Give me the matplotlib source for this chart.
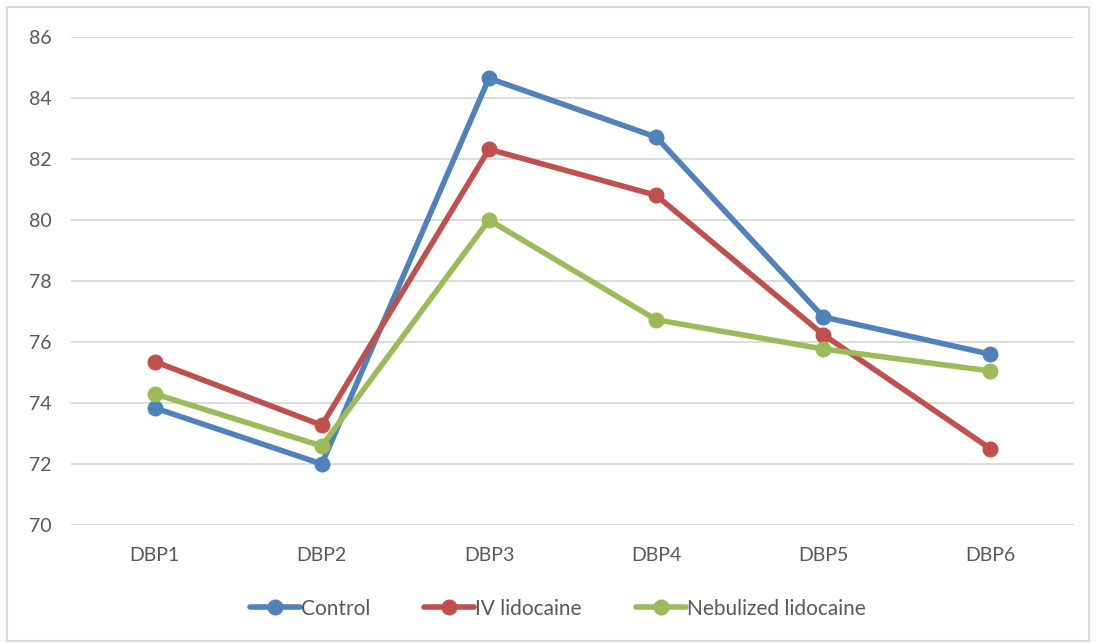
import matplotlib.pyplot as plt
from matplotlib.patches import Rectangle

# data
categories = ['DBP1', 'DBP2', 'DBP3', 'DBP4', 'DBP5', 'DBP6']
control = [73.84, 72.0, 84.65, 82.72, 76.82, 75.6]
iv_lido = [75.36, 73.27, 82.32, 80.81, 76.24, 72.5]
neb_lido = [74.3, 72.59, 80.0, 76.73, 75.77, 75.05]

series = [('Control', control, '#4F81BD'),
          ('IV lidocaine', iv_lido, '#C0504D'),
          ('Nebulized lidocaine', neb_lido, '#9BBB59')]

plt.rcParams['font.family'] = ['Lato', 'DejaVu Sans']

fig = plt.figure(figsize=(10.96, 6.44), dpi=100)
ax = fig.add_axes([0.0648, 0.1848, 0.9152, 0.7577])

x = range(len(categories))
for name, vals, col in series:
    ax.plot(x, vals, color=col, lw=4, marker='o', ms=10.5, label=name,
            solid_capstyle='round', zorder=3)

ax.set_xlim(-0.5, len(categories) - 0.5)
ax.set_ylim(70, 86)
ax.set_yticks(range(70, 87, 2))
ax.set_xticks(list(x))
ax.set_xticklabels(categories)
ax.grid(axis='y', color='#D9D9D9', lw=1.3, zorder=0)
ax.tick_params(axis='both', length=0, labelsize=14, labelcolor='#595959')
ax.tick_params(axis='y', pad=14)
ax.tick_params(axis='x', pad=16)
for s in ax.spines.values():
    s.set_visible(False)
ax.axhline(70, color='#D9D9D9', lw=1.3, zorder=1)

leg = fig.legend(loc='center', bbox_to_anchor=(0.509, 0.055), ncol=3, frameon=False,
                 fontsize=15, handlelength=2.4, columnspacing=2.6, handletextpad=0.05,
                 labelcolor='#595959')

# outer chart border
fig.patches.append(Rectangle((0.006, 0.004), 0.988, 0.985, transform=fig.transFigure,
                             fill=False, edgecolor='#D9D9D9', lw=1.5))

fig.savefig('out.png', dpi=100)
